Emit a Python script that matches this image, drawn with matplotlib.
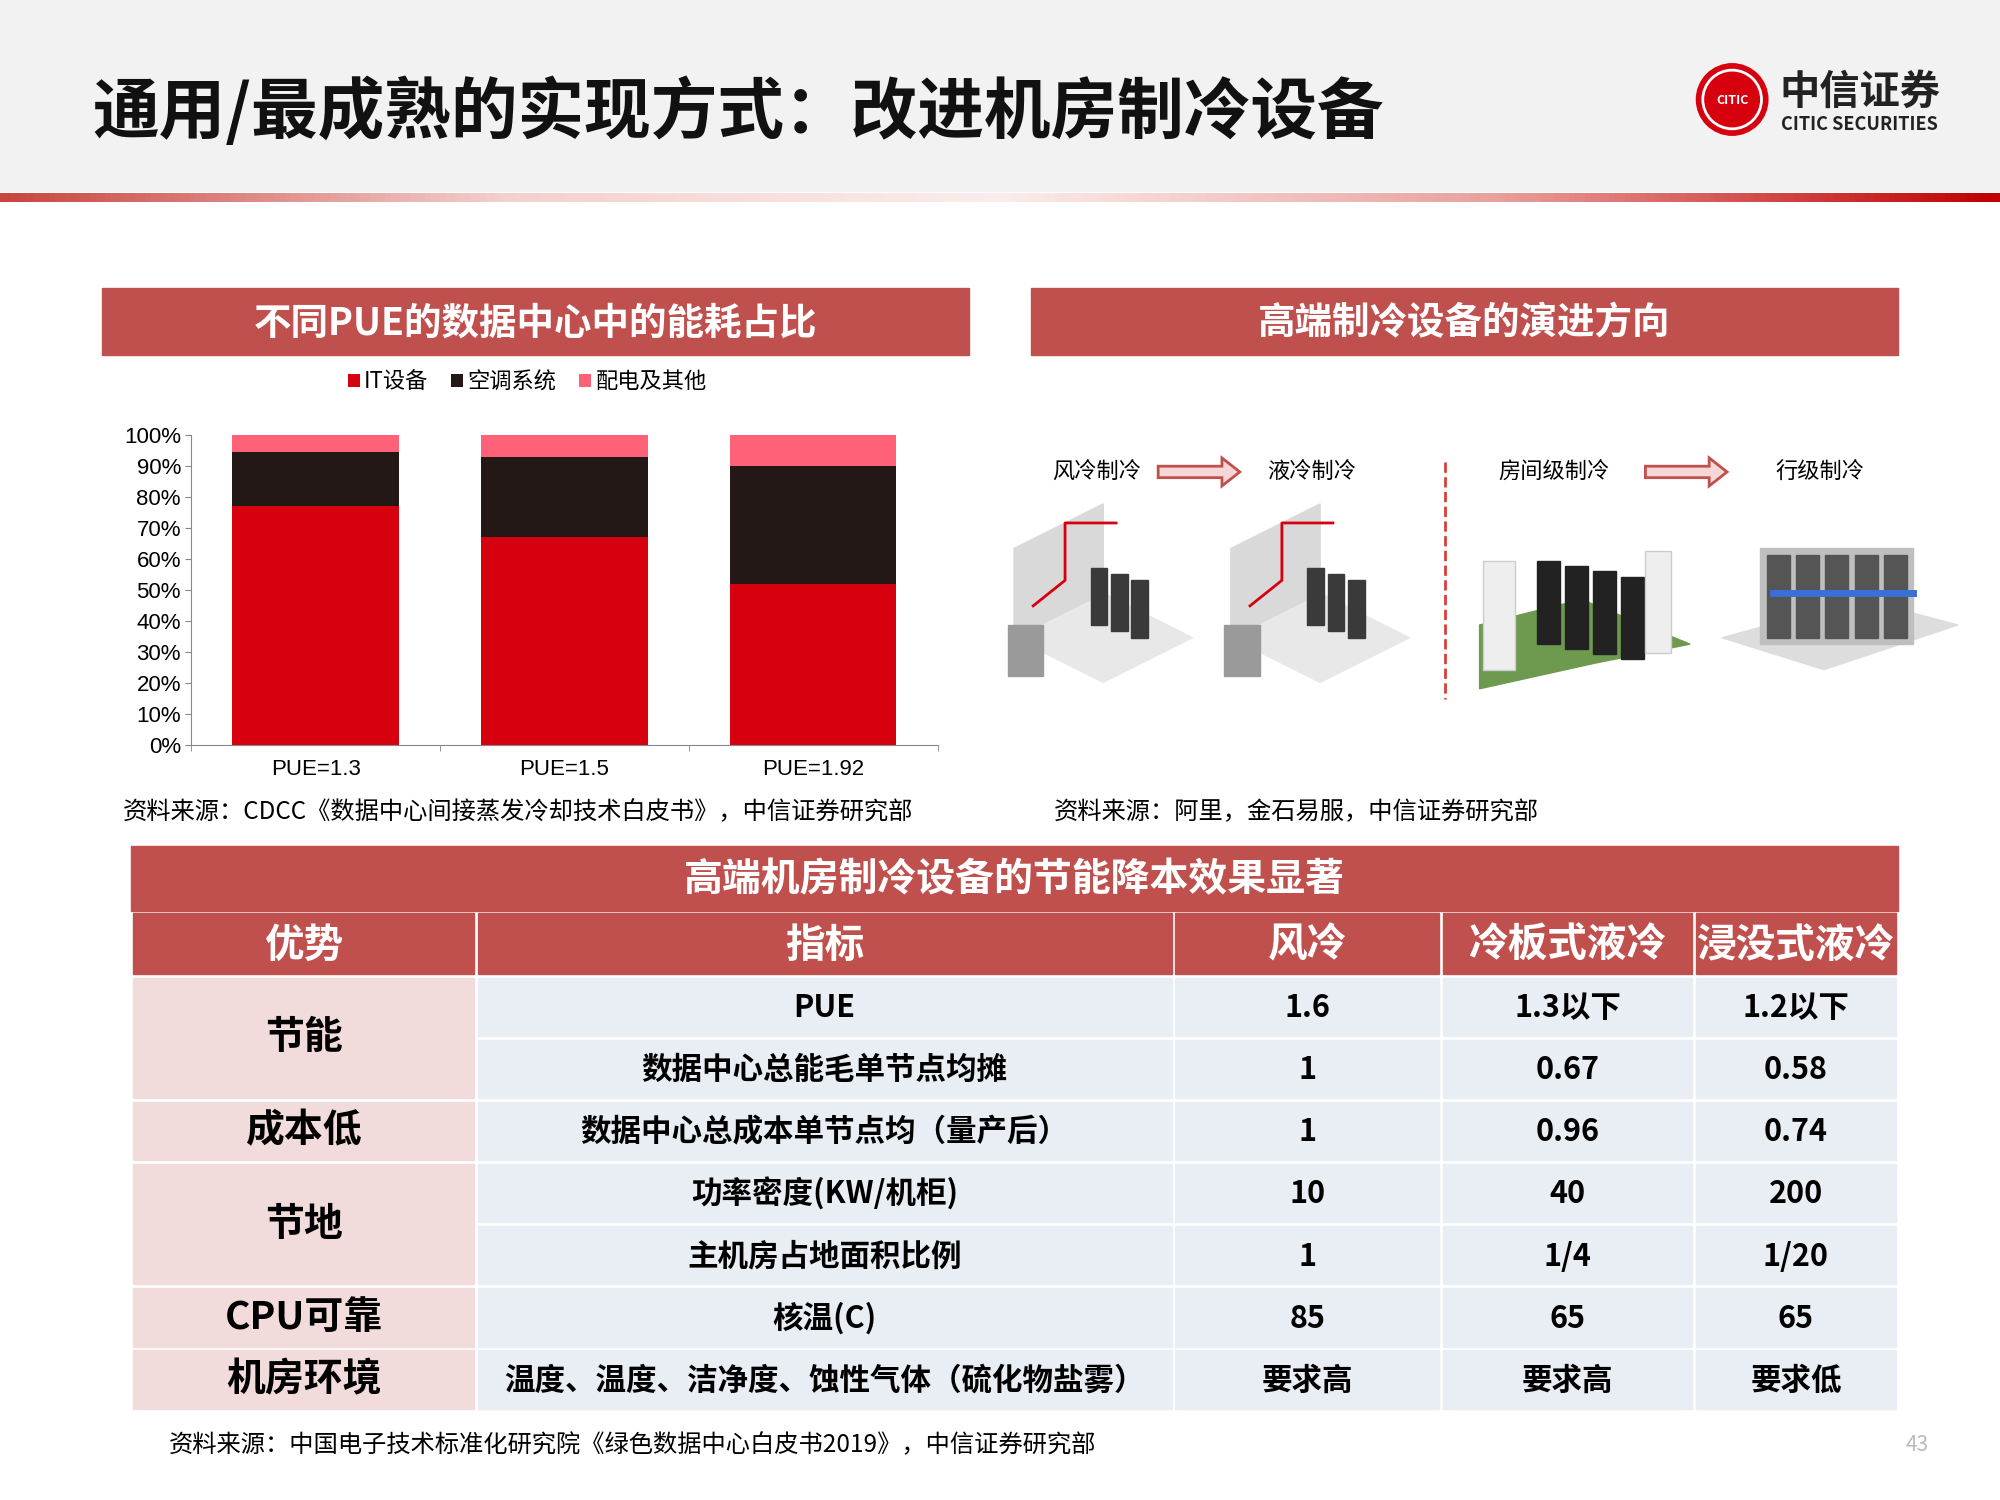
import matplotlib
matplotlib.use("Agg")
import matplotlib.pyplot as plt
import numpy as np
from matplotlib.patches import Rectangle, Circle, FancyArrow, Polygon
from matplotlib.colors import LinearSegmentedColormap

plt.rcParams["font.family"] = ["Noto Sans CJK SC", "DejaVu Sans"]

# ---------------- data ----------------
categories = ["PUE=1.3", "PUE=1.5", "PUE=1.92"]
it_equipment = [77, 67, 52]
air_conditioning = [17.5, 26, 38]
power_other = [5.5, 7, 10]
series_names = ["IT设备", "空调系统", "配电及其他"]
yticks = [0, 10, 20, 30, 40, 50, 60, 70, 80, 90, 100]

table_header = ["优势", "指标", "风冷", "冷板式液冷", "浸没式液冷"]
table_indicators = ["PUE", "数据中心总能毛单节点均摊", "数据中心总成本单节点均（量产后）",
                    "功率密度(KW/机柜)", "主机房占地面积比例", "核温(C)",
                    "温度、温度、洁净度、蚀性气体（硫化物盐雾）"]
air_cooling = ["1.6", "1", "1", "10", "1", "85", "要求高"]
cold_plate = ["1.3以下", "0.67", "0.96", "40", "1/4", "65", "要求高"]
immersion = ["1.2以下", "0.58", "0.74", "200", "1/20", "65", "要求低"]
advantages = [("节能", 0, 2), ("成本低", 2, 1), ("节地", 3, 2), ("CPU可靠", 5, 1), ("机房环境", 6, 1)]

RED = "#C0504D"
W, H = 1568, 1176
fig = plt.figure(figsize=(20, 15), dpi=100)
bg = fig.add_axes([0, 0, 1, 1])
bg.set_xlim(0, W); bg.set_ylim(H, 0); bg.axis("off")

# top band
bg.add_patch(Rectangle((0, 0), W, 150, color="#F2F2F2", zorder=0))
bg.text(72, 88, "通用/最成熟的实现方式：改进机房制冷设备", fontsize=48, fontweight="bold",
        va="center", ha="left", color="#111111")
cmap = LinearSegmentedColormap.from_list("g", ["#C9463F", "#F3D0CE", "#FBEDEC", "#E8A09C", "#C00000"])
grad = np.linspace(0, 1, 400)[None, :]
bg.imshow(grad, extent=(0, W, 158, 151), cmap=cmap, aspect="auto", zorder=1)
# logo
bg.add_patch(Circle((1358, 78), 28, color="#D7000F", zorder=2))
bg.add_patch(Circle((1358, 78), 23, fill=False, ec="white", lw=2, zorder=3))
bg.text(1358, 79, "CITIC", color="white", fontsize=9, fontweight="bold", ha="center", va="center", zorder=4)
bg.text(1395, 72, "中信证券", fontsize=29, fontweight="bold", ha="left", va="center", color="#222222",
        family="Noto Sans CJK SC")
bg.text(1396, 98, "CITIC SECURITIES", fontsize=13, fontweight="bold", ha="left", va="center", color="#222222")

# section headers
for x0, x1, t in [(80, 760, "不同PUE的数据中心中的能耗占比"), (808, 1488, "高端制冷设备的演进方向")]:
    bg.add_patch(Rectangle((x0, 226), x1 - x0, 52, color=RED))
    bg.text((x0 + x1) / 2, 253, t, color="white", fontsize=27, fontweight="bold", ha="center", va="center")

# sources
bg.text(96, 637, "资料来源：CDCC《数据中心间接蒸发冷却技术白皮书》，中信证券研究部", fontsize=17.5, va="center")
bg.text(826, 637, "资料来源：阿里，金石易服，中信证券研究部", fontsize=17.5, va="center")
bg.text(132, 1133, "资料来源：中国电子技术标准化研究院《绿色数据中心白皮书2019》，中信证券研究部", fontsize=17.5, va="center")
bg.text(1503, 1133, "43", fontsize=15, color="#BBBBBB", ha="center", va="center")

# right illustration (schematic placeholders)
for x, t in [(860, "风冷制冷"), (1028, "液冷制冷"), (1218, "房间级制冷"), (1427, "行级制冷")]:
    bg.text(x, 370, t, fontsize=16, ha="center", va="center")
for x in [908, 1290]:
    bg.add_patch(FancyArrow(x, 370, 64, 0, width=9, head_width=22, head_length=14,
                            length_includes_head=True, fc="#F4D7D6", ec=RED, lw=2))
bg.plot([1133, 1133], [362, 548], ls="--", color="#D7403A", lw=2)
def iso_room(cx, cy, col="#D9D9D9"):
    bg.add_patch(Polygon([(cx - 70, cy + 20), (cx, cy + 55), (cx + 70, cy + 20), (cx, cy - 15)],
                         color="#E8E8E8", zorder=2))
    bg.add_patch(Polygon([(cx - 70, cy + 20), (cx - 70, cy - 50), (cx, cy - 85), (cx, cy - 15)],
                         color=col, zorder=2))
    for k in range(3):
        bg.add_patch(Rectangle((cx - 10 + k * 16, cy - 35 + k * 5), 13, 45, color="#3A3A3A", zorder=3))
    bg.plot([cx - 55, cx - 30, cx - 30, cx + 10], [cy - 5, cy - 25, cy - 70, cy - 70], color="#D7000F", lw=2, zorder=3)
    bg.add_patch(Rectangle((cx - 75, cy + 10), 28, 40, color="#9A9A9A", zorder=4))
iso_room(865, 480)
iso_room(1035, 480)
bg.add_patch(Polygon([(1160, 540), (1250, 520), (1325, 505), (1240, 470), (1160, 490)], color="#6E9A4F", zorder=2))
for k in range(4):
    bg.add_patch(Rectangle((1205 + k * 22, 440 + k * 4), 18, 65, color="#222222", zorder=3))
bg.add_patch(Rectangle((1163, 440), 25, 85, color="#EEEEEE", ec="#CCCCCC", zorder=3))
bg.add_patch(Rectangle((1290, 432), 20, 80, color="#EEEEEE", ec="#CCCCCC", zorder=3))
bg.add_patch(Polygon([(1350, 500), (1430, 525), (1535, 490), (1460, 470)], color="#DDDDDD", zorder=2))
bg.add_patch(Rectangle((1380, 430), 120, 75, color="#BFBFBF", zorder=3))
for k in range(5):
    bg.add_patch(Rectangle((1385 + k * 23, 435), 18, 65, color="#555555", zorder=4))
bg.plot([1390, 1500], [465, 465], color="#3B6FD8", lw=5, zorder=5)

# bar chart
ax = fig.add_axes([150 / W, 1 - 584 / H, (735 - 150) / W, (584 - 341) / H])
x = np.arange(len(categories))
cols = ["#D7000F", "#231815", "#FF6178"]
b1 = np.array(it_equipment); b2 = np.array(air_conditioning); b3 = np.array(power_other)
ax.bar(x, b1, width=0.67, color=cols[0], label=series_names[0])
ax.bar(x, b2, width=0.67, bottom=b1, color=cols[1], label=series_names[1])
ax.bar(x, b3, width=0.67, bottom=b1 + b2, color=cols[2], label=series_names[2])
ax.set_xlim(-0.5, 2.5); ax.set_ylim(0, 100)
ax.set_yticks(yticks)
ax.set_yticklabels([f"{v}%" for v in yticks], fontsize=16, family="Liberation Sans")
ax.set_xticks(x)
ax.set_xticklabels(categories, fontsize=16, family="Liberation Sans")
ax.set_xticks([-0.5, 0.5, 1.5, 2.5], minor=True)
ax.tick_params(axis="x", which="major", length=0, pad=10)
ax.tick_params(axis="x", which="minor", length=4, color="#888888")
ax.tick_params(axis="y", length=4, color="#888888")
for s in ["top", "right"]:
    ax.spines[s].set_visible(False)
ax.spines["left"].set_color("#888888"); ax.spines["bottom"].set_color("#888888")
ax.legend(loc="lower center", bbox_to_anchor=(0.45, 1.07), ncol=3, frameon=False, fontsize=16,
          handlelength=0.55, handleheight=0.55, handletextpad=0.2, columnspacing=1.0)

# table
bg.add_patch(Rectangle((103, 663), 1385, 51, color=RED))
bg.text(795, 690, "高端机房制冷设备的节能降本效果显著", color="white", fontsize=28, fontweight="bold",
        ha="center", va="center")
colx = [103, 373, 920, 1130, 1328, 1488]
top_hdr, row_h = 716, 48.7
gap = 1.5
for j, t in enumerate(table_header):
    bg.add_patch(Rectangle((colx[j] + gap, top_hdr), colx[j + 1] - colx[j] - 2 * gap, 48, color=RED))
    bg.text((colx[j] + colx[j + 1]) / 2, top_hdr + 25, t, color="white", fontsize=28.5, fontweight="bold",
            ha="center", va="center")
y0 = 765
for name, start, span in advantages:
    yt = y0 + start * row_h
    bg.add_patch(Rectangle((colx[0] + gap, yt + gap), colx[1] - colx[0] - 2 * gap, span * row_h - 2 * gap,
                           color="#F2DCDB"))
    bg.text((colx[0] + colx[1]) / 2, yt + span * row_h / 2, name, fontsize=28, fontweight="bold",
            ha="center", va="center")
for i in range(len(table_indicators)):
    yt = y0 + i * row_h
    vals = [table_indicators[i], air_cooling[i], cold_plate[i], immersion[i]]
    for j, v in enumerate(vals):
        xa, xb = colx[j + 1], colx[j + 2]
        bg.add_patch(Rectangle((xa + gap, yt + gap), xb - xa - 2 * gap, row_h - 2 * gap, color="#E9EDF4"))
        bg.text((xa + xb) / 2, yt + row_h / 2 + 1, v, fontsize=22, fontweight="bold",
                ha="center", va="center")

fig.savefig("out.png", dpi=100)
